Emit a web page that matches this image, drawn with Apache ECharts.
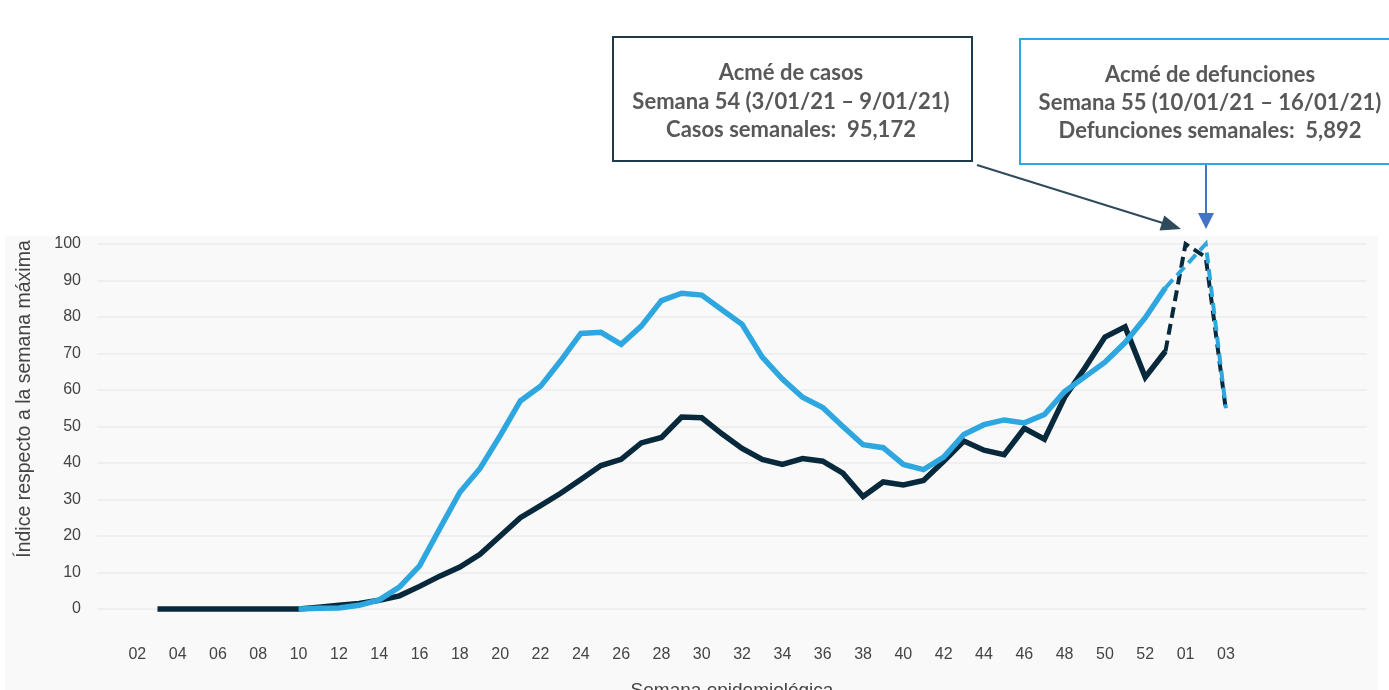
<!DOCTYPE html>
<html>
<head>
<meta charset="utf-8">
<script src="https://cdn.jsdelivr.net/npm/echarts@6/dist/echarts.min.js"></script>
<style>html,body{margin:0;padding:0;background:#fff}#c{width:1389px;height:690px}</style>
</head>
<body>
<div id="c"></div>
<script>
// Category axis: epidemiological weeks (index 0..63); 2021 weeks follow week 53
const weeks = ['', '01','02','03','04','05','06','07','08','09','10',
  '11','12','13','14','15','16','17','18','19','20',
  '21','22','23','24','25','26','27','28','29','30',
  '31','32','33','34','35','36','37','38','39','40',
  '41','42','43','44','45','46','47','48','49','50',
  '51','52','53','01','02','03','','','','','','',''];

// Cases index (weeks 03..53), solid
const casosStart = 3;
const casos = [0,0,0,0,0,0,0,0, 0.5,1,1.5,2.4,3.6,6.2,9,11.5,15,20,
  25,28.3,31.7,35.5,39.3,41,45.5,47,52.6,52.4,48,44,41,39.6,41.2,40.5,37.2,30.8,
  34.8,34,35.2,40.5,46,43.5,42.3,49.5,46.5,58,66,74.5,77.3,63.5,70.6];
// Cases index, preliminary (weeks 53..2021-03), dashed
const casosPrelimStart = 53;
const casosPrelim = [70.6, 100, 96.4, 54.5];

// Deaths index (weeks 10..53), solid
const defStart = 10;
const defunciones = [0,0.2,0.3,1,2.5,6,11.8,22,32,38.5,47.5,57,61,68,75.5,75.8,72.5,
  77.5,84.5,86.5,86,82,78,69,63,58,55.2,50,45,44.2,39.6,38.2,41.6,47.8,50.5,51.8,51,
  53.3,59.6,63.6,67.6,73,79.8,88];
// Deaths index, preliminary, dashed
const defPrelimStart = 53;
const defPrelim = [88, 94, 100, 55];

const yTicks = [0,10,20,30,40,50,60,70,80,90,100];

function pad(start, vals) {
  const out = [];
  for (let i = 0; i < start; i++) out.push(null);
  return out.concat(vals);
}

const DARK = '#08293b';
const BLUE = '#2ea6df';

const chart = echarts.init(document.getElementById('c'), null, {renderer: 'canvas'});
chart.setOption({
  animation: false,
  backgroundColor: '#ffffff',
  grid: {left: 97, right: 22, top: 244, bottom: 81, containLabel: false, outerBoundsMode: 'none'},
  xAxis: {
    type: 'category',
    data: weeks,
    boundaryGap: false,
    axisLine: {show: false},
    axisTick: {show: false},
    splitLine: {show: false},
    axisLabel: {
      interval: (i, v) => i % 2 === 0 && v !== '',
      margin: 38,
      fontSize: 16,
      color: '#444',
      fontFamily: 'Liberation Sans'
    },
    name: 'Semana epidemiológica',
    nameLocation: 'middle',
    nameGap: 72,
    nameTextStyle: {fontSize: 19, color: '#444', fontFamily: 'Liberation Sans'}
  },
  yAxis: {
    type: 'value',
    min: yTicks[0],
    max: yTicks[yTicks.length - 1],
    interval: 10,
    axisLine: {show: false},
    axisTick: {show: false},
    splitLine: {lineStyle: {color: '#ebebeb', width: 1.5}},
    axisLabel: {margin: 16, fontSize: 16, color: '#444', fontFamily: 'Liberation Sans'}
  },
  series: [
    {type: 'line', data: pad(casosStart, casos), symbol: 'none', clip: false, z: 3,
      lineStyle: {color: DARK, width: 5.5, join: 'miter'}},
    {type: 'line', data: pad(casosPrelimStart, casosPrelim), symbol: 'none', clip: false, z: 3,
      lineStyle: {color: DARK, width: 4, type: [11, 6], join: 'miter'}},
    {type: 'line', data: pad(defStart, defunciones), symbol: 'none', clip: false, z: 4,
      lineStyle: {color: BLUE, width: 5.5, join: 'miter'}},
    {type: 'line', data: pad(defPrelimStart, defPrelim), symbol: 'none', clip: false, z: 4,
      lineStyle: {color: BLUE, width: 4, type: [11, 6], join: 'miter'}}
  ],
  graphic: [
    {type: 'rect', z: -10, silent: true,
      shape: {x: 5, y: 236, width: 1373, height: 460},
      style: {fill: '#f9f9f9'}},
    // Y-axis title
    {type: 'text', z: 5, x: 25, y: 399, rotation: Math.PI / 2,
      style: {text: 'Índice respecto a la semana máxima', fill: '#444',
        font: '19.5px "Liberation Sans"', align: 'center', verticalAlign: 'middle'}},
    // Box 1
    {type: 'rect', z: 10, shape: {x: 613, y: 37, width: 359, height: 124},
      style: {fill: '#ffffff', stroke: '#1f3a4b', lineWidth: 2}},
    {type: 'text', z: 11, x: 791, y: 59,
      style: {text: 'Acmé de casos\nSemana 54 (3/01/21 – 9/01/21)\nCasos semanales:  95,172',
        fill: '#585858', font: 'bold 22px Lato', align: 'center', verticalAlign: 'top', lineHeight: 28.5}},
    // Box 2
    {type: 'rect', z: 10, shape: {x: 1020, y: 39, width: 380, height: 125},
      style: {fill: '#ffffff', stroke: '#2ea6df', lineWidth: 2}},
    {type: 'text', z: 11, x: 1210, y: 61,
      style: {text: 'Acmé de defunciones\nSemana 55 (10/01/21 – 16/01/21)\nDefunciones semanales:  5,892',
        fill: '#585858', font: 'bold 22px Lato', align: 'center', verticalAlign: 'top', lineHeight: 28}},
    // Arrow 1
    {type: 'line', z: 12, shape: {x1: 977, y1: 165, x2: 1166, y2: 224},
      style: {stroke: '#2f4b5b', lineWidth: 2}},
    {type: 'polygon', z: 12, shape: {points: [[1181, 229], [1164.3, 215.4], [1159.5, 230.6]]},
      style: {fill: '#2f4b5b'}},
    // Arrow 2
    {type: 'line', z: 12, shape: {x1: 1206, y1: 165, x2: 1206, y2: 214},
      style: {stroke: '#4472c4', lineWidth: 2}},
    {type: 'polygon', z: 12, shape: {points: [[1206, 229], [1198, 213], [1214, 213]]},
      style: {fill: '#4472c4'}}
  ]
});
</script>
</body>
</html>
